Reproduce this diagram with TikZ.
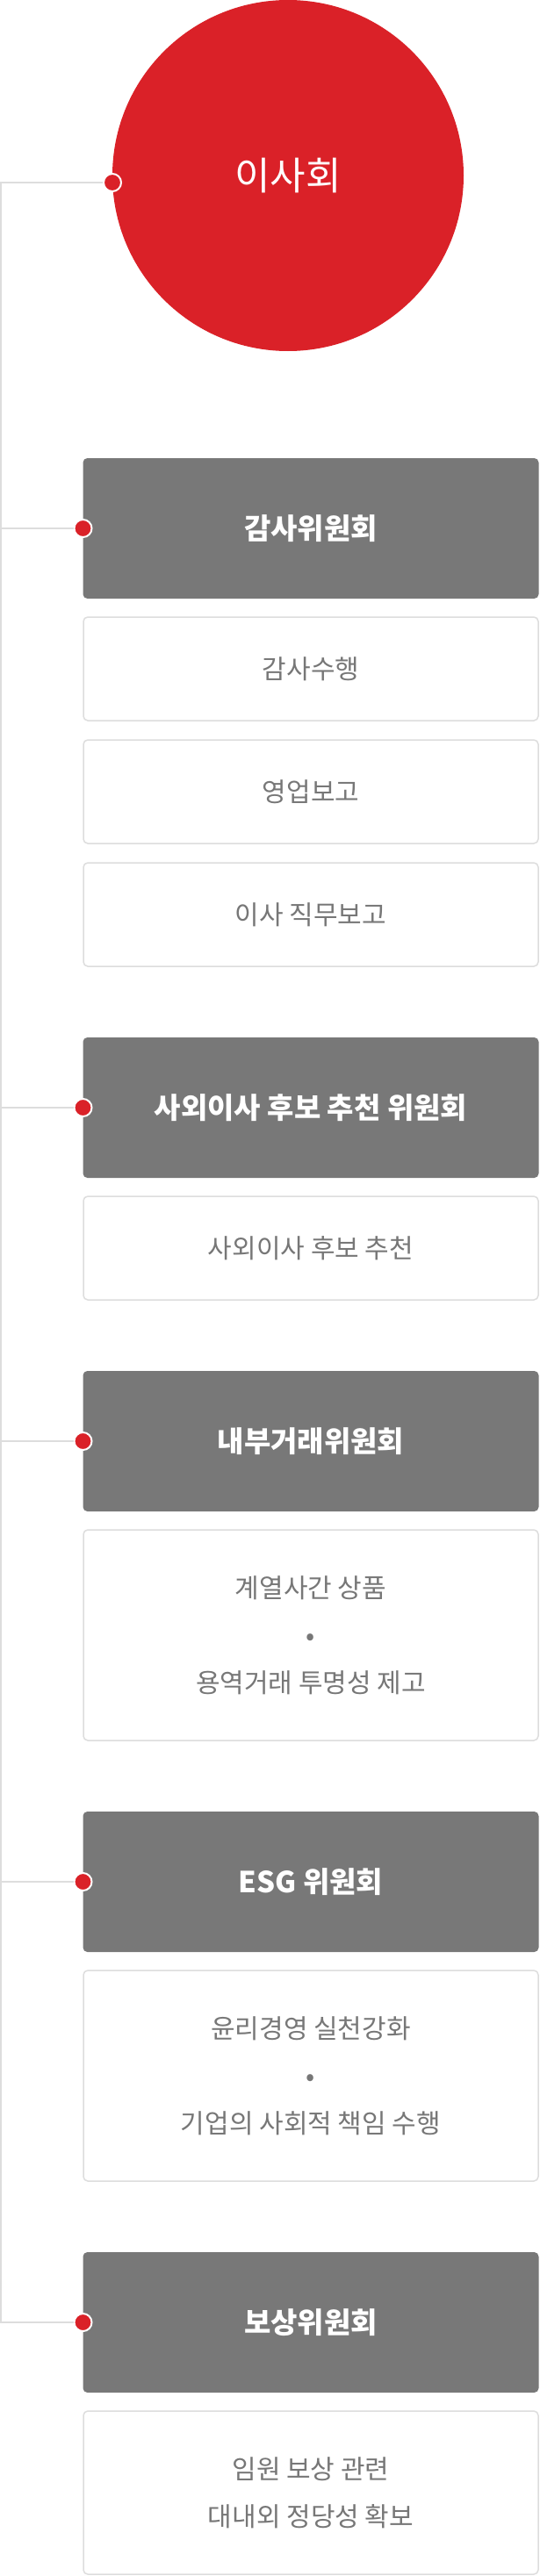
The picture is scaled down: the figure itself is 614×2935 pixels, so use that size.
\documentclass[tikz,border=0pt]{standalone}
\usepackage{fontspec}
\setmainfont{Noto Sans CJK KR}
\usepackage{tikz}
\usetikzlibrary{positioning}

\definecolor{boardred}{HTML}{DA2128}
\definecolor{headgray}{HTML}{787878}
\definecolor{itemgray}{HTML}{777777}
\definecolor{wiregray}{HTML}{DDDDDD}

\begin{document}
\begin{tikzpicture}[x=1pt, y=-1pt,
    board/.style={circle, fill=boardred, minimum size=400pt, inner sep=0pt, outer sep=0pt,
        text=white, font=\fontsize{44}{50}\selectfont},
    header/.style={rectangle, rounded corners=5pt, fill=headgray, minimum width=519pt,
        minimum height=160pt, inner sep=0pt, outer sep=0pt, text=white,
        font=\fontsize{33}{40}\selectfont\bfseries},
    item/.style={rectangle, rounded corners=5pt, draw=wiregray, line width=1.5pt, fill=white,
        minimum width=518pt, minimum height=118pt, inner sep=0pt, outer sep=0pt,
        text=itemgray, align=center, font=\fontsize{30}{54}\selectfont},
    dot/.style={circle, fill=boardred, draw=white, line width=2pt, minimum size=20pt,
        inner sep=0pt},
    wire/.style={draw=wiregray, line width=2pt}]

    % Fix the page to the reference size
    \useasboundingbox (0,0) rectangle (614,2935);

    % Board at the top
    \node[board] (board) at (328,200) {이사회};

    % Committees with their tasks
    \node[header] (audit) at (354,602) {감사위원회};
    \node[item, below=21pt of audit] (audit1) {감사수행};
    \node[item, below=22pt of audit1] (audit2) {영업보고};
    \node[item, below=22pt of audit2] (audit3) {이사 직무보고};

    \node[header, below=81pt of audit3] (nomin) {사외이사 후보 추천 위원회};
    \node[item, below=21pt of nomin] (nomin1) {사외이사 후보 추천};

    \node[header, below=81pt of nomin1] (trade) {내부거래위원회};
    \node[item, minimum height=240pt, below=21pt of trade] (trade1)
        {계열사간 상품\\•\\용역거래 투명성 제고};

    \node[header, below=81pt of trade1] (esg) {ESG 위원회};
    \node[item, minimum height=240pt, below=21pt of esg] (esg1)
        {윤리경영 실천강화\\•\\기업의 사회적 책임 수행};

    \node[header, below=81pt of esg1] (pay) {보상위원회};
    \node[item, minimum height=186pt, below=21pt of pay] (pay1)
        {임원 보상 관련\\대내외 정당성 확보};

    % Red dots on the left edges
    \node[dot] (d0) at ([yshift=-8pt]board.west) {};
    \node[dot] (d1) at (audit.west) {};
    \node[dot] (d2) at (nomin.west) {};
    \node[dot] (d3) at (trade.west) {};
    \node[dot] (d4) at (esg.west) {};
    \node[dot] (d5) at (pay.west) {};

    % Trunk line and branches
    \coordinate (top) at (1,0 |- d0);
    \coordinate (bot) at (1,0 |- d5);
    \draw[wire] (d0.west) -- (top) -- (bot) -- (d5.west);
    \draw[wire] (top |- d1) -- (d1.west);
    \draw[wire] (top |- d2) -- (d2.west);
    \draw[wire] (top |- d3) -- (d3.west);
    \draw[wire] (top |- d4) -- (d4.west);
\end{tikzpicture}
\end{document}
